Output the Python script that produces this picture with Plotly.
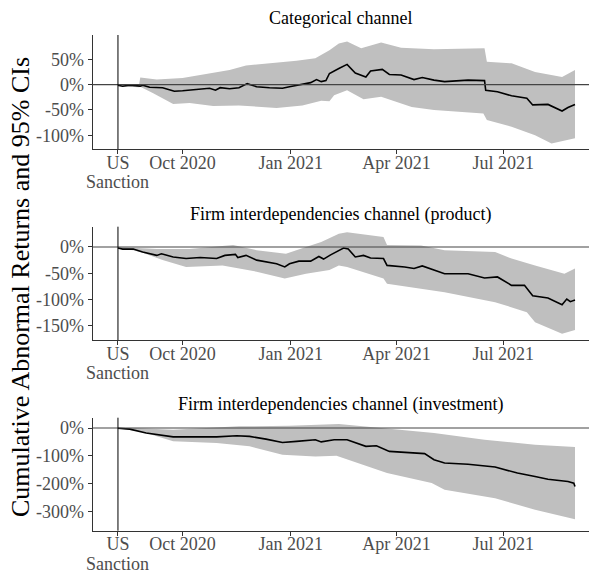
import plotly.graph_objects as go

# ---------------- data ----------------
SANCTION_DATE = "2020-08-07"

cat_dates = ["2020-08-07","2020-08-11","2020-08-17","2020-08-26","2020-08-28","2020-09-03","2020-09-14",
             "2020-09-24","2020-10-01","2020-10-13","2020-10-24","2020-10-29","2020-11-02","2020-11-10",
             "2020-11-18","2020-11-25","2020-12-03","2020-12-14","2020-12-25","2020-12-31","2021-01-11",
             "2021-01-18","2021-01-23","2021-01-27","2021-01-31","2021-02-03","2021-02-11","2021-02-18",
             "2021-02-25","2021-03-06","2021-03-10","2021-03-20","2021-03-26","2021-04-05","2021-04-16",
             "2021-04-23","2021-05-03","2021-05-12","2021-06-01","2021-06-15","2021-06-16","2021-06-26",
             "2021-07-08","2021-07-21","2021-07-26","2021-08-08","2021-08-20","2021-08-25","2021-08-31"]
cat_car = [-1,-3,-1,-3,-1,-5,-6,-13,-12,-10,-7,-11,-6,-8,-6,2,-4,-6,-7,-4,1,4,10,6,8,22,32,40,23,15,27,30,20,
           19,10,14,9,6,9,8,-11,-14,-22,-27,-40,-39,-52,-45,-39]
cat_up_dates = ["2020-08-07","2020-08-25","2020-08-26","2020-09-09","2020-10-01","2020-10-22","2020-11-10",
                "2020-11-24","2020-12-16","2021-01-06","2021-01-22","2021-02-03","2021-02-11","2021-02-18",
                "2021-03-02","2021-03-19","2021-04-05","2021-05-03","2021-06-15","2021-06-17","2021-07-08",
                "2021-07-28","2021-08-20","2021-08-31"]
cat_up = [1,1,14,10,13,22,29,38,42,47,52,68,81,85,72,83,73,70,72,45,42,25,15,29]
cat_lo_dates = ["2020-08-07","2020-08-25","2020-08-26","2020-09-06","2020-09-23","2020-10-07","2020-10-27",
                "2020-11-18","2020-12-20","2021-01-11","2021-01-27","2021-02-03","2021-02-07","2021-02-18",
                "2021-03-04","2021-03-19","2021-04-14","2021-05-03","2021-06-14","2021-06-17","2021-07-08",
                "2021-07-28","2021-08-11","2021-08-31"]
cat_lo = [-3,-5,-4,-17,-38,-36,-42,-41,-46,-41,-32,-33,-21,-11,-29,-24,-44,-50,-57,-70,-83,-100,-116,-106]

prod_dates = ["2020-08-07","2020-08-11","2020-08-20","2020-08-28","2020-09-09","2020-09-13","2020-09-23",
              "2020-10-04","2020-10-16","2020-10-30","2020-11-06","2020-11-15","2020-11-17","2020-11-24",
              "2020-12-03","2020-12-20","2020-12-27","2020-12-31","2021-01-08","2021-01-18","2021-01-25",
              "2021-01-29","2021-02-04","2021-02-11","2021-02-15","2021-02-19","2021-02-25","2021-03-04",
              "2021-03-10","2021-03-21","2021-03-24","2021-04-08","2021-04-16","2021-04-23","2021-05-12",
              "2021-06-01","2021-06-15","2021-06-26","2021-07-08","2021-07-19","2021-07-26","2021-08-08",
              "2021-08-20","2021-08-24","2021-08-27","2021-08-31"]
prod_car = [-2,-4,-4,-9.5,-16,-13,-19,-22,-20,-22,-16,-14,-20,-16,-25,-32,-38,-32,-27,-27,-18,-23,-15,-6,-2,
            -4,-19,-16,-21,-22,-35,-38,-41,-36,-51,-51,-59,-57,-73,-73,-93,-97,-110,-99,-104,-101]
prod_up_dates = ["2020-08-07","2020-08-20","2020-09-09","2020-10-07","2020-11-13","2020-12-03","2020-12-28",
                 "2021-01-14","2021-01-27","2021-02-11","2021-02-18","2021-03-21","2021-03-24","2021-04-22",
                 "2021-05-12","2021-06-24","2021-07-08","2021-07-28","2021-08-22","2021-08-31"]
prod_up = [0,-2,-4,-4,4,-6,-13,0,9.5,25,28,19,4,3,-6,-9.5,-22,-35,-51,-41]
prod_lo_dates = ["2020-08-07","2020-08-20","2020-08-28","2020-09-14","2020-10-04","2020-11-04","2020-12-03",
                 "2020-12-27","2021-01-14","2021-02-03","2021-02-11","2021-02-18","2021-03-21","2021-03-24",
                 "2021-04-22","2021-05-12","2021-06-24","2021-07-21","2021-07-28","2021-08-20","2021-08-31"]
prod_lo = [-3,-6,-11,-25,-38,-35,-47,-60,-51,-44,-35,-38,-60,-70,-79,-86,-105,-124,-143,-165,-158]

inv_dates = ["2020-08-07","2020-08-17","2020-08-31","2020-09-12","2020-09-23","2020-10-07","2020-10-30",
             "2020-11-16","2020-11-27","2020-12-11","2020-12-25","2021-01-06","2021-01-22","2021-01-27",
             "2021-02-07","2021-02-18","2021-03-06","2021-03-15","2021-03-26","2021-04-25","2021-05-03",
             "2021-05-12","2021-06-01","2021-06-24","2021-07-13","2021-07-28","2021-08-08","2021-08-25",
             "2021-08-30","2021-08-31"]
inv_car = [-1,-4,-18,-24,-32,-32,-32,-28,-30,-40,-52,-48,-42,-50,-42,-42,-66,-64,-84,-92,-114,-126,-130,
           -140,-162,-174,-184,-192,-198,-210]
inv_up_dates = ["2020-08-07","2020-08-20","2020-09-23","2020-10-22","2020-11-18","2020-12-31","2021-02-11",
                "2021-03-19","2021-05-03","2021-06-15","2021-07-28","2021-08-31"]
inv_up = [0,0,-6,0,6,8,14,0,-18,-42,-60,-68]
inv_lo_dates = ["2020-08-07","2020-08-26","2020-09-23","2020-10-30","2020-11-27","2020-12-25","2021-01-22",
                "2021-02-09","2021-03-24","2021-05-01","2021-05-12","2021-06-24","2021-07-28","2021-08-31"]
inv_lo = [-2,-12,-48,-54,-66,-96,-102,-100,-162,-198,-222,-252,-294,-328]

panel_titles = ["Categorical channel",
                "Firm interdependencies channel (product)",
                "Firm interdependencies channel (investment)"]
y_tickvals = [[-100, -50, 0, 50], [-150, -100, -50, 0], [-300, -200, -100, 0]]
y_ticktext = [["-100%", "-50%", "0%", "50%"], ["-150%", "-100%", "-50%", "0%"],
              ["-300%", "-200%", "-100%", "0%"]]
x_tickvals = [SANCTION_DATE, "2020-10-01", "2021-01-01", "2021-04-01", "2021-07-01"]
x_ticktext = ["US", "Oct 2020", "Jan 2021", "Apr 2021", "Jul 2021"]
sanction_label_2nd_line = "Sanction"
y_label = "Cumulative Abnormal Returns and 95% CIs"

# ---------------- layout geometry ----------------
W, H = 589, 574
FONT = "Liberation Serif"
x_dom = [92.5 / W, 1.0]
y_doms = [[1 - 149 / H, 1 - 35 / H], [1 - 340 / H, 1 - 226.7 / H], [1 - 530.7 / H, 1 - 417.7 / H]]
y_ranges = [[-127, 98], [-177, 38.6], [-369, 37]]
title_y = [1 - 18 / H, 1 - 214 / H, 1 - 404 / H]
x_range = ["2020-07-16 08:00", "2021-09-11 22:00"]

panels = [
    (cat_dates, cat_car, cat_up_dates, cat_up, cat_lo_dates, cat_lo),
    (prod_dates, prod_car, prod_up_dates, prod_up, prod_lo_dates, prod_lo),
    (inv_dates, inv_car, inv_up_dates, inv_up, inv_lo_dates, inv_lo),
]

fig = go.Figure()
shapes = []
annotations = []
for i, (d, v, ud, u, ld, lo) in enumerate(panels):
    sfx = "" if i == 0 else str(i + 1)
    xa, ya = "x" + sfx, "y" + sfx
    fig.add_trace(go.Scatter(
        x=list(ud) + list(reversed(ld)), y=list(u) + list(reversed(lo)),
        fill="toself", fillcolor="#bfbfbf", line=dict(width=0), mode="lines",
        hoverinfo="skip", showlegend=False, xaxis=xa, yaxis=ya))
    fig.add_trace(go.Scatter(
        x=d, y=v, mode="lines", line=dict(color="black", width=1.6),
        showlegend=False, xaxis=xa, yaxis=ya))
    axis_common = dict(showgrid=False, zeroline=False, showline=True, linecolor="#333333",
                       linewidth=1, ticks="outside", ticklen=4, tickcolor="#333333",
                       automargin=False, tickangle=0,
                       tickfont=dict(family=FONT, size=18, color="#4d4d4d"))
    fig.layout["xaxis" + sfx] = dict(domain=x_dom, anchor=ya, range=x_range, type="date",
                                     tickvals=x_tickvals, ticktext=x_ticktext,
                                     ticklabelstandoff=-7, **axis_common)
    fig.layout["yaxis" + sfx] = dict(domain=y_doms[i], anchor=xa, range=y_ranges[i],
                                     tickvals=y_tickvals[i], ticktext=y_ticktext[i], **axis_common)
    shapes.append(dict(type="line", xref=xa + " domain", yref=ya, x0=0, x1=1, y0=0, y1=0,
                       line=dict(color="#444444", width=1.1), layer="above"))
    shapes.append(dict(type="line", xref=xa, yref=ya + " domain", x0=SANCTION_DATE, x1=SANCTION_DATE,
                       y0=0, y1=1, line=dict(color="black", width=1), layer="above"))
    annotations.append(dict(text=panel_titles[i], xref="paper", yref="paper",
                            x=(x_dom[0] + x_dom[1]) / 2, y=title_y[i], xanchor="center",
                            yanchor="middle", showarrow=False,
                            font=dict(family=FONT, size=18, color="black")))
    annotations.append(dict(text=sanction_label_2nd_line, xref=xa, yref=ya + " domain",
                            x=SANCTION_DATE, y=0, yshift=-33, xanchor="center", yanchor="middle",
                            showarrow=False, borderpad=0,
                            font=dict(family=FONT, size=18, color="#4d4d4d")))

annotations.append(dict(text=y_label, xref="paper", yref="paper", x=20 / W, y=0.5,
                        xanchor="center", yanchor="middle", textangle=-90, showarrow=False,
                        font=dict(family=FONT, size=26, color="black")))

fig.update_layout(template="none", width=W, height=H, margin=dict(l=0, r=0, t=0, b=0, pad=0),
                  plot_bgcolor="white", paper_bgcolor="white",
                  shapes=shapes, annotations=annotations, showlegend=False,
                  font=dict(family=FONT))
fig.write_html("out.html")
